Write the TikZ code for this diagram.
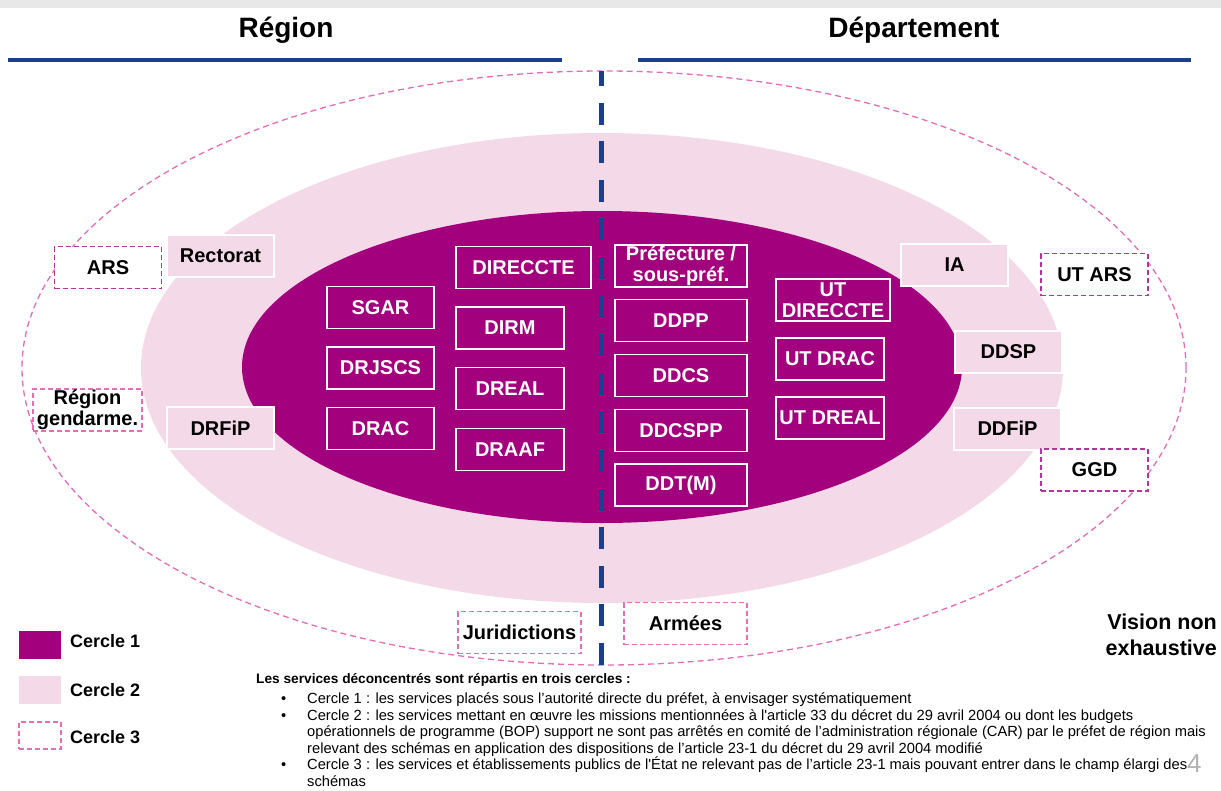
\documentclass[tikz,border=0pt]{standalone}
\usepackage{fontspec}
\setmainfont{Liberation Sans}
\usetikzlibrary{positioning}

\definecolor{cercleun}{HTML}{A2007C}
\definecolor{cercledeux}{HTML}{F4DAE8}
\definecolor{cercletrois}{HTML}{B4369A}
\definecolor{cerclepale}{HTML}{E36DB7}
\definecolor{bleu}{HTML}{1A3F8C}
\definecolor{bandgris}{HTML}{E8E8E8}
\definecolor{numgris}{HTML}{B3B3B3}

\tikzset{
  c1box/.style={draw=white, line width=1.4pt, text=white, minimum width=107pt, minimum height=42pt},
  c2box/.style={draw=white, line width=2pt, fill=cercledeux, minimum width=107pt, minimum height=42pt},
  c3box/.style={draw=cercletrois, line width=1.5pt, dash pattern=on 5pt off 3pt, fill=white, minimum width=107pt, minimum height=42pt},
  c3pale/.style={c3box, draw=cerclepale},
  notetext/.style={anchor=base west, font=\fontsize{14.7}{16}\selectfont},
}

\begin{document}
\begin{tikzpicture}[x=1pt, y=-1pt, on grid, every node/.style={font=\bfseries\fontsize{20}{21}\selectfont, inner sep=0pt, align=center}]

    \useasboundingbox (0,0) rectangle (1221,790);
    \fill[white] (0,0) rectangle (1221,790);
    \fill[bandgris] (0,0) rectangle (1221,8);

    % titres
    \node (region) at (286,30) {\fontsize{28}{30}\selectfont Région};
    \node (dept)   at (914,30) {\fontsize{28}{30}\selectfont Département};
    \draw[bleu, line width=4pt] (8,60) -- (562,60);
    \draw[bleu, line width=4pt] (638,60) -- (1191,60);

    % les trois cercles
    \draw[cerclepale, line width=1.3pt, dash pattern=on 6pt off 4pt] (604,368) ellipse [x radius=582pt, y radius=297pt];
    \fill[cercledeux] (602,368) ellipse [x radius=461pt, y radius=235pt];
    \fill[cercleun] (602,367) ellipse [x radius=360pt, y radius=156pt];
    \draw[bleu, line width=5pt, dash pattern=on 22pt off 16.6pt, dash phase=7pt] (601.5,71) -- (601.5,665);

    % cercle 1, region
    \node[c1box]         (sgar)   at (380.5,307.5)          {SGAR};
    \node[c1box]         (drjscs) [below=60.5pt of sgar]    {DRJSCS};
    \node[c1box]         (drac)   [below=60.5pt of drjscs]  {DRAC};
    \node[c1box, minimum width=135pt] (direccte) at (523.5,267.5) {DIRECCTE};
    \node[c1box, minimum width=108pt] (dirm)   at (510,328)  {DIRM};
    \node[c1box, minimum width=108pt] (dreal)  [below=60.75pt of dirm]  {DREAL};
    \node[c1box, minimum width=108pt] (draaf)  [below=60.75pt of dreal] {DRAAF};

    % cercle 1, departement
    \node[c1box, minimum width=132pt] (pref)   at (681,266)  {Préfecture /\\sous-préf.};
    \node[c1box, minimum width=132pt] (ddpp)   [below=54.75pt of pref]   {DDPP};
    \node[c1box, minimum width=132pt] (ddcs)   [below=54.75pt of ddpp]   {DDCS};
    \node[c1box, minimum width=132pt] (ddcspp) [below=54.75pt of ddcs]   {DDCSPP};
    \node[c1box, minimum width=132pt] (ddtm)   [below=54.75pt of ddcspp] {DDT(M)};
    \node[c1box, minimum width=114pt] (utdireccte) at (833,300) {UT\\DIRECCTE};
    \node[c1box, minimum width=108pt] (utdrac)  at (830,359)  {UT DRAC};
    \node[c1box, minimum width=108pt] (utdreal) [below=59pt of utdrac] {UT DREAL};

    % cercle 2
    \node[c2box] (rectorat) at (220.5,256)  {Rectorat};
    \node[c2box] (drfip)    at (220.5,428)  {DRFiP};
    \node[c2box] (ia)       at (954.5,265)  {IA};
    \node[c2box] (ddsp)     at (1008.5,351.5) {DDSP};
    \node[c2box] (ddfip)    at (1007.5,428.5) {DDFiP};

    % cercle 3
    \node[c3box] (ars)      at (108,267.5)  {ARS};
    \node[c3pale, minimum width=109pt] (gendarme) at (87.5,410) {Région\\gendarme.};
    \node[c3box] (utars)    at (1094.5,274.5) {UT ARS};
    \node[c3box] (ggd)      at (1094.5,470) {GGD};
    \node[c3pale, minimum width=123pt] (juridictions) at (519.5,632.5) {Juridictions};
    \node[c3pale, minimum width=123pt] (armees)       at (685.5,623.5) {Armées};

    % legende
    \node[fill=cercleun, minimum width=42pt, minimum height=28pt] (leg1) at (40,645) {};
    \node[fill=cercledeux, minimum width=42pt, minimum height=28pt] (leg2) at (40,690) {};
    \node[draw=cerclepale, line width=1.2pt, dash pattern=on 5pt off 3pt, minimum width=42pt, minimum height=27pt] (leg3) at (40,735.5) {};
    \node[anchor=west, font=\bfseries\fontsize{18}{20}\selectfont] (legtxt1) at (70,641.5) {Cercle 1};
    \node[anchor=west, font=\bfseries\fontsize{18}{20}\selectfont] (legtxt2) at (70,690) {Cercle 2};
    \node[anchor=west, font=\bfseries\fontsize{18}{20}\selectfont] (legtxt3) at (70,737) {Cercle 3};

    \node[anchor=base east, font=\bfseries\fontsize{21.5}{26}\selectfont, align=right] (vision) at (1217,655) {Vision non\\exhaustive};

    % texte du bas
    \node[notetext, font=\bfseries\fontsize{13.7}{16}\selectfont] (note0) at (256,683) {Les services déconcentrés sont répartis en trois cercles :};
    \node[notetext] (puce1) at (281,703) {•};
    \node[notetext] (note1) at (307,703) {Cercle 1 : les services placés sous l’autorité directe du préfet, à envisager systématiquement};
    \node[notetext] (puce2) at (281,720) {•};
    \node[notetext] (note2) at (307,720) {Cercle 2 : les services mettant en œuvre les missions mentionnées à l\textquotesingle article 33 du décret du 29 avril 2004 ou dont les budgets};
    \node[notetext] (note3) at (307,736.5) {opérationnels de programme (BOP) support ne sont pas arrêtés en comité de l’administration régionale (CAR) par le préfet de région mais};
    \node[notetext] (note4) at (307,753) {relevant des schémas en application des dispositions de l’article 23-1 du décret du 29 avril 2004 modifié};
    \node[notetext] (puce3) at (281,769.5) {•};
    \node[notetext] (note5) at (307,769.5) {Cercle 3 : les services et établissements publics de l\textquotesingle État ne relevant pas de l’article 23-1 mais pouvant entrer dans le champ élargi des};
    \node[notetext] (note6) at (307,786) {schémas};

    \node[anchor=base west, font=\fontsize{26}{28}\selectfont, text=numgris] (page) at (1187,772) {4};
\end{tikzpicture}
\end{document}
